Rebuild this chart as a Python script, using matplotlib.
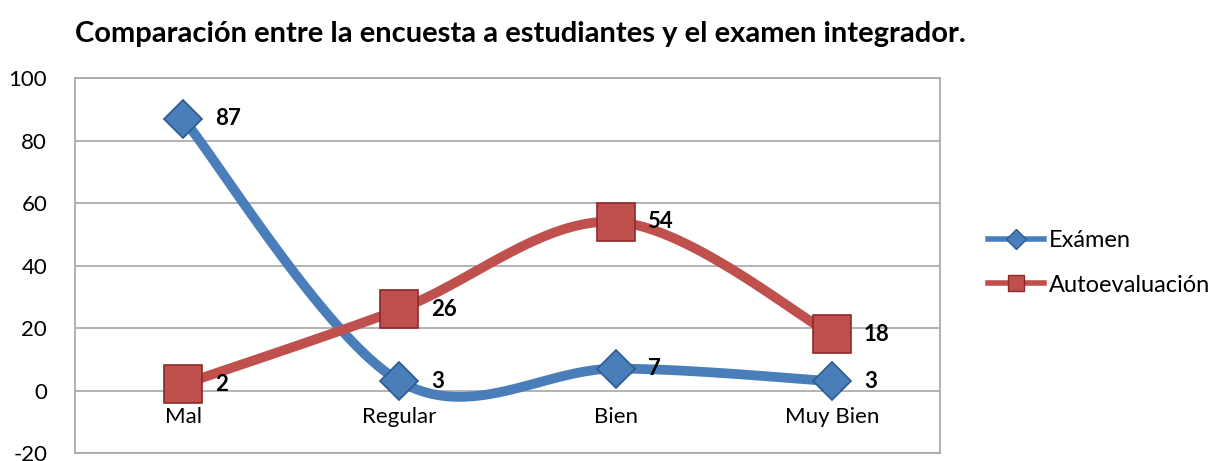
import matplotlib.pyplot as plt
from matplotlib.lines import Line2D
import numpy as np

# datos
categorias = ['Mal', 'Regular', 'Bien', 'Muy Bien']
examen = [87, 3, 7, 3]
autoevaluacion = [2, 26, 54, 18]

azul = '#4A7EBB'
rojo = '#C0504D'

plt.rcParams['font.family'] = ['Lato', 'DejaVu Sans']
plt.rcParams['axes.unicode_minus'] = False


def suavizar(x, y, n=40):
    # curva tipo Excel (Catmull-Rom / Bezier)
    x = np.asarray(x, float)
    y = np.asarray(y, float)
    px, py = [], []
    for i in range(len(x) - 1):
        x0, y0 = (x[i - 1], y[i - 1]) if i > 0 else (x[i], y[i])
        x3, y3 = (x[i + 2], y[i + 2]) if i + 2 < len(x) else (x[i + 1], y[i + 1])
        x1, y1, x2, y2 = x[i], y[i], x[i + 1], y[i + 1]
        c1x, c1y = x1 + (x2 - x0) / 6, y1 + (y2 - y0) / 6
        c2x, c2y = x2 - (x3 - x1) / 6, y2 - (y3 - y1) / 6
        t = np.linspace(0, 1, n)
        px.extend((1-t)**3*x1 + 3*(1-t)**2*t*c1x + 3*(1-t)*t**2*c2x + t**3*x2)
        py.extend((1-t)**3*y1 + 3*(1-t)**2*t*c1y + 3*(1-t)*t**2*c2y + t**3*y2)
    return px, py


fig = plt.figure(figsize=(12.08, 4.61), dpi=100)
ax = fig.add_axes([0.0621, 0.0174, 0.716, 0.813])

x = np.arange(len(categorias))
for serie, color, mk, ms, borde in [(examen, azul, 'D', 19, '#2C5A8C'),
                                     (autoevaluacion, rojo, 's', 27, '#8B2A28')]:
    sx, sy = suavizar(x, serie)
    ax.plot(sx, sy, color=color, lw=7, solid_capstyle='round', zorder=2)
    ax.plot(x, serie, ls='none', marker=mk, ms=ms, mfc=color, mec=borde,
            mew=1.2, zorder=3)
    for xi, v in zip(x, serie):
        ax.annotate(str(v), (xi, v), xytext=(23, 0), textcoords='offset points',
                    va='center', ha='left', fontsize=16, fontweight='bold')

ax.set_xlim(-0.5, len(categorias) - 0.5)
ax.set_ylim(-20, 100)
ax.set_yticks(range(-20, 101, 20))
ax.set_xticks([])
ax.tick_params(axis='y', length=0, labelsize=16, pad=20)
ax.grid(axis='y', color='#A6A6A6', lw=1.2)
ax.set_axisbelow(True)
for s in ax.spines.values():
    s.set_color('#A6A6A6')
    s.set_linewidth(1.2)

for xi, c in zip(x, categorias):
    ax.annotate(c, (xi, 0), xytext=(0, -12), textcoords='offset points',
                ha='center', va='top', fontsize=16)

ax.set_title('Comparación entre la encuesta a estudiantes y el examen integrador.',
             fontsize=21, fontweight='bold', loc='left', x=0.0, pad=26)

handles = [Line2D([], [], color=azul, lw=4, marker='D', ms=10, mfc=azul, mec='#2C5A8C'),
           Line2D([], [], color=rojo, lw=4, marker='s', ms=12, mfc=rojo, mec='#8B2A28')]
fig.legend(handles, ['Exámen', 'Autoevaluación'], loc='center left',
           bbox_to_anchor=(0.800, 0.43), frameon=False, fontsize=17,
           handlelength=2.4, handletextpad=0.2, labelspacing=1.0)

plt.savefig('out.png', dpi=100)
